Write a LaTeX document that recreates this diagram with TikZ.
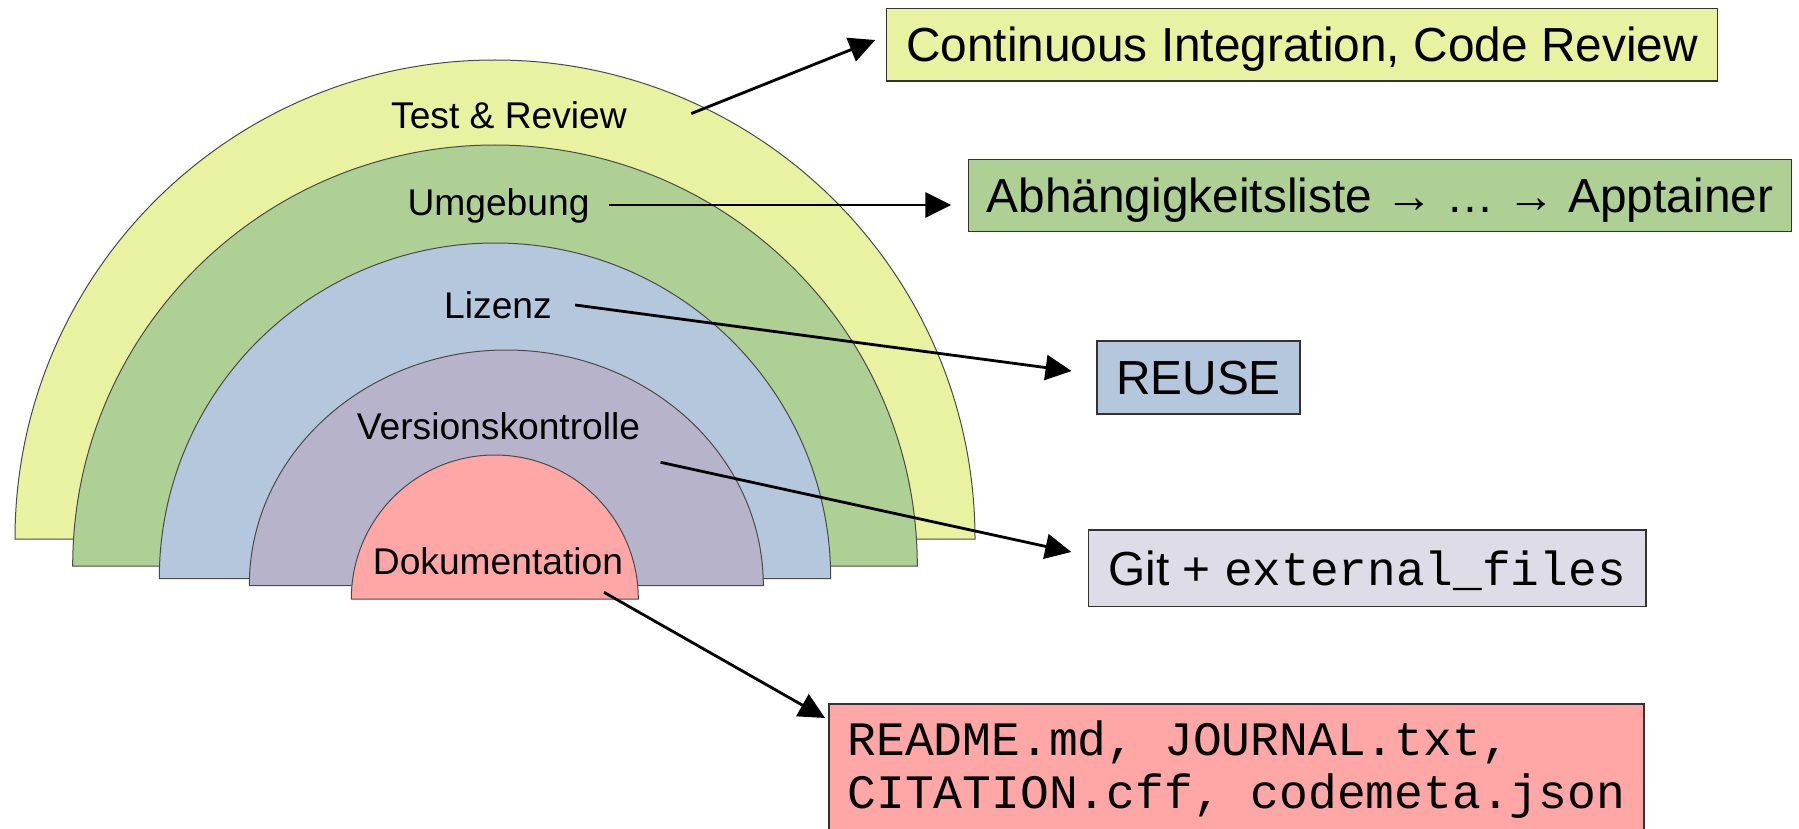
\documentclass[tikz,border=0pt]{standalone}
\usepackage{fontspec}
\setmainfont{Liberation Sans}
\setmonofont{Liberation Mono}
\usetikzlibrary{arrows.meta,calc}
\definecolor{cyel}{HTML}{E8F2A1}
\definecolor{cgrn}{HTML}{AFD095}
\definecolor{cblu}{HTML}{B4C7DC}
\definecolor{cpur}{HTML}{B7B3CA}
\definecolor{cpnk}{HTML}{FFA6A6}
\definecolor{cgit}{HTML}{DEDCE6}
\definecolor{cline}{HTML}{4A4A4A}
\definecolor{bline}{HTML}{333333}
\begin{document}
\begin{tikzpicture}[x=0.5pt,y=-0.5pt,
  layer/.style={draw=cline, line width=0.5pt},
  lbl/.style={font=\fontsize{18.6pt}{22pt}\selectfont, inner sep=0pt, anchor=base},
  box/.style={draw=bline, line width=0.75pt, font=\fontsize{23.9pt}{28pt}\selectfont, text height=17pt, text depth=0pt, inner sep=0pt},
  arr/.style={line width=1.4pt, -{Triangle[length=13pt,width=12.5pt]}}]
\useasboundingbox (0,0) rectangle (1799,829);
\fill[white] (0,0) rectangle (1799,829);
% layers
\filldraw[layer, fill=cyel] (15,539) arc[start angle=180,end angle=0,x radius=240pt,y radius=239.5pt] -- cycle;
\filldraw[layer, fill=cgrn] (72.7,566) arc[start angle=180,end angle=0,x radius=211.15pt,y radius=210.5pt] -- cycle;
\filldraw[layer, fill=cblu] (159.3,578.5) arc[start angle=180,end angle=0,x radius=167.85pt,y radius=167.75pt] -- cycle;
\filldraw[layer, fill=cpur] (249.3,585.5) arc[start angle=180,end angle=0,x radius=128.5pt,y radius=117.75pt] -- cycle;
\filldraw[layer, fill=cpnk] (351.3,599) arc[start angle=180,end angle=0,x radius=71.75pt,y radius=72pt] -- cycle;
% labels
\node[lbl] (tr) at (509,129) {Test \& Review};
\node[lbl] (um) at (498.5,215) {Umgebung};
\node[lbl] (li) at (498,318) {Lizenz};
\node[lbl] (vk) at (498.5,439.3) {Versionskontrolle};
\node[lbl] (dk) at (498,574) {Dokumentation};
% boxes
\node[box, fill=cyel, minimum width=415.3pt, minimum height=36.35pt] (ci) at (1302,44.65) {Continuous Integration, Code Review};
\node[box, fill=cgrn, minimum width=411.7pt, minimum height=36.2pt] (abh) at (1380,195.5) {Abhängigkeitsliste → … → Apptainer};
\node[box, fill=cblu, minimum width=101.5pt, minimum height=36.5pt] (reuse) at (1198.5,377.5) {REUSE};
\node[box, fill=cgit, minimum width=278.8pt, minimum height=38.35pt] (git) at (1367.2,568.3) {Git + \texttt{external\_files}};
\node[draw=bline, line width=0.75pt, fill=cpnk, anchor=north west, inner sep=0pt, minimum width=407.4pt, minimum height=70pt] (readme) at (828.2,703.3) {};
\node[anchor=base west, inner sep=0pt, font=\fontsize{24pt}{26.65pt}\selectfont\ttfamily] (rt) at (847,755) {\begin{tabular}[t]{@{}l@{}}README.md, JOURNAL.txt,\\CITATION.cff, codemeta.json\end{tabular}};
% arrows
\draw[arr] ($(tr.base east)+(64,-15.4)$) -- ($(ci.west)+(-10.7,-4.65)$);
\draw[arr] ($(um.base east)+(19,-10)$) -- ($(abh.west)+(-16.3,9.5)$);
\draw[arr] ($(li.base east)+(23,-13)$) -- ($(reuse.west)+(-24.7,-6.5)$);
\draw[arr] ($(vk.base east)+(20,23)$) -- ($(git.west)+(-16.4,-16.3)$);
\draw[arr] ($(dk.base east)+(-19.5,18.3)$) -- ($(readme.north west)+(-3.2,14.7)$);
\end{tikzpicture}
\end{document}
